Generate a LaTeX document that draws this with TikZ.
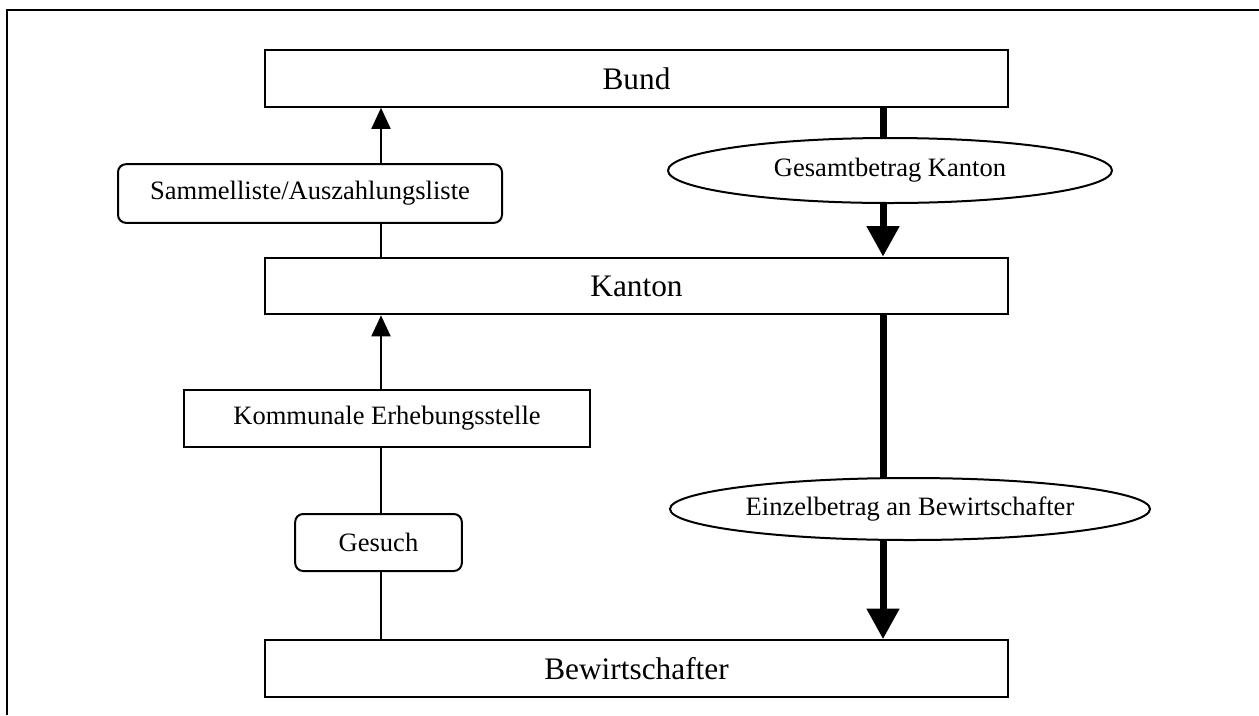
\documentclass[tikz,border=0pt]{standalone}
\usepackage{fontspec}
\setmainfont{Liberation Serif}
\usetikzlibrary{arrows.meta,shapes.geometric}
\begin{document}
\begin{tikzpicture}[x=0.75pt,y=-0.75pt,
  bigbox/.style={draw,line width=1.5pt,rectangle,minimum width=557pt,minimum height=42.5pt,inner sep=0pt,font=\fontsize{23.5}{28}\selectfont},
  smallbox/.style={draw,line width=1.5pt,rectangle,inner sep=0pt,font=\fontsize{19.9}{24}\selectfont},
  roundbox/.style={smallbox,rounded corners=6pt},
  oval/.style={draw,line width=1.5pt,ellipse,inner sep=0pt,font=\fontsize{19.9}{24}\selectfont},
  thinline/.style={line width=1.5pt},
  thinarrow/.style={line width=1.5pt,-{Triangle[width=14.25pt,length=15.75pt]}},
  thickline/.style={line width=5.25pt},
  thickarrow/.style={line width=5.25pt,-{Triangle[width=23.5pt,length=23pt]}},
  frameline/.style={line width=1.5pt}]
\useasboundingbox (0,0) rectangle (1259,715);
\fill[white] (0,0) rectangle (1259,715);
\coordinate (fa) at (7,715);
\coordinate (fb) at (7,10);
\coordinate (fc) at (1259,10);
\draw[frameline] (fa) -- (fb) -- (fc);

\node[bigbox] (bund) at (636.5,78.5) {Bund};
\node[bigbox] (kanton) at (636.5,286) {Kanton};
\node[bigbox] (bew) at (636.5,668.5) {Bewirtschafter};
\node[roundbox,minimum width=288pt,minimum height=44pt] (samm) at (310,193.5) {Sammelliste/Auszahlungsliste};
\node[smallbox,minimum width=304.5pt,minimum height=42.75pt] (komm) at (387,418.5) {Kommunale Erhebungsstelle};
\node[roundbox,minimum width=125pt,minimum height=42.75pt] (ges) at (378.5,542.5) {Gesuch};
\node[oval,minimum width=333pt,minimum height=48.75pt] (e1) at (890,170.5) {Gesamtbetrag Kanton};
\node[oval,minimum width=360pt,minimum height=46.5pt] (e2) at (910,509) {Einzelbetrag an Bewirtschafter};

\coordinate (lx) at (381,0);
\coordinate (rx) at (883,0);

\draw[thinline] (kanton.north -| lx) -- (samm.south -| lx);
\draw[thinarrow] (samm.north -| lx) -- (bund.south -| lx);
\draw[thinline] (bew.north -| lx) -- (ges.south -| lx);
\draw[thinline] (ges.north -| lx) -- (komm.south -| lx);
\draw[thinarrow] (komm.north -| lx) -- (kanton.south -| lx);

\draw[thickline] (bund.south -| rx) -- (e1.north -| rx);
\draw[thickarrow] (e1.south -| rx) -- (kanton.north -| rx);
\draw[thickline] (kanton.south -| rx) -- (e2.north -| rx);
\draw[thickarrow] (e2.south -| rx) -- (bew.north -| rx);
\end{tikzpicture}
\end{document}
